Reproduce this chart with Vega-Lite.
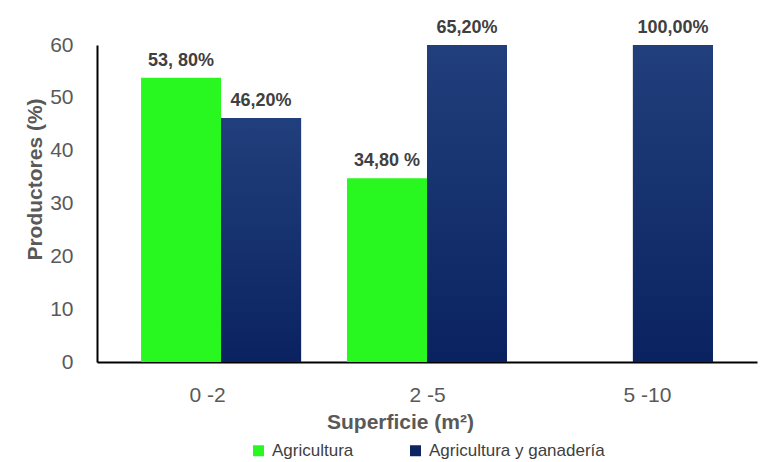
{
  "$schema": "https://vega.github.io/schema/vega-lite/v6.json",
  "autosize": "none",
  "width": 660,
  "height": 317,
  "padding": {"left": 97, "top": 45, "right": 3, "bottom": 100},
  "background": "white",
  "config": {
    "view": {"stroke": null},
    "font": "Liberation Sans"
  },
  "data": {
    "values": [
      {"superficie": "0 -2", "grupo": "Agricultura", "valor": 53.8, "etiqueta": "53, 80%"},
      {"superficie": "0 -2", "grupo": "Agricultura y ganadería", "valor": 46.2, "etiqueta": "46,20%"},
      {"superficie": "2 -5", "grupo": "Agricultura", "valor": 34.8, "etiqueta": "34,80 %"},
      {"superficie": "2 -5", "grupo": "Agricultura y ganadería", "valor": 65.2, "etiqueta": "65,20%"},
      {"superficie": "5 -10", "grupo": "Agricultura y ganadería", "valor": 100, "etiqueta": "100,00%"}
    ]
  },
  "layer": [
    {
      "encoding": {
        "x": {
          "field": "superficie", "type": "nominal", "sort": ["0 -2", "2 -5", "5 -10"],
          "scale": {"paddingInner": 0.223, "paddingOuter": 0.214},
          "axis": null
        },
        "xOffset": {
          "field": "grupo", "type": "nominal",
          "sort": ["Agricultura", "Agricultura y ganadería"],
          "scale": {"domain": ["Agricultura", "Agricultura y ganadería"], "paddingInner": 0, "paddingOuter": 0}
        },
        "y": {
          "field": "valor", "type": "quantitative",
          "scale": {"domain": [0, 60], "clamp": true, "nice": false},
          "axis": {
            "values": [0, 10, 20, 30, 40, 50, 60],
            "title": "Productores (%)",
            "titleFontSize": 21,
            "titleFontWeight": "bold",
            "titleColor": "#595959",
            "titleFont": "Liberation Sans",
            "titlePadding": 4,
            "titleY": 134,
            "labelFontSize": 21,
            "labelColor": "#595959",
            "labelFont": "Liberation Sans",
            "labelPadding": 24,
            "ticks": false,
            "grid": false,
            "domainColor": "#000000",
            "domainWidth": 2
          }
        }
      },
      "layer": [
        {
          "mark": {"type": "bar"},
          "encoding": {
            "color": {
              "field": "grupo", "type": "nominal",
              "scale": {"domain": ["Agricultura", "Agricultura y ganadería"], "range": ["#28f81f", "#0c2562"]},
              "legend": {
                "title": null,
                "orient": "none",
                "direction": "horizontal",
                "legendX": 153,
                "legendY": 397,
                "symbolType": "square",
                "symbolSize": 121,
                "symbolStrokeWidth": 0,
                "labelFontSize": 17,
                "labelColor": "#404040",
                "labelFont": "Liberation Sans",
                "labelOffset": 5,
                "labelLimit": 400,
                "columnPadding": 53
              }
            }
          }
        },
        {
          "transform": [{"filter": "datum.grupo === 'Agricultura y ganadería'"}],
          "mark": {
            "type": "bar",
            "fill": {
              "gradient": "linear",
              "x1": 0, "y1": 0, "x2": 0, "y2": 1,
              "stops": [
                {"offset": 0, "color": "#213f7c"},
                {"offset": 1, "color": "#0a2360"}
              ]
            }
          }
        },
        {
          "mark": {
            "type": "text",
            "baseline": "middle",
            "dy": -17,
            "fontSize": 18,
            "fontWeight": "bold",
            "font": "Liberation Sans",
            "color": "#404040"
          },
          "encoding": {
            "text": {"field": "etiqueta", "type": "nominal"}
          }
        }
      ]
    },
    {
      "mark": {"type": "point", "opacity": 0},
      "encoding": {
        "x": {
          "field": "superficie", "type": "nominal", "sort": ["0 -2", "2 -5", "5 -10"],
          "scale": {"type": "point", "padding": 0.5},
          "axis": {
            "title": "Superficie (m²)",
            "titleFontSize": 21,
            "titleFontWeight": "bold",
            "titleColor": "#595959",
            "titleFont": "Liberation Sans",
            "titlePadding": 6,
            "titleX": 303,
            "labelFontSize": 21,
            "labelColor": "#595959",
            "labelFont": "Liberation Sans",
            "labelPadding": 22,
            "labelAngle": 0,
            "ticks": false,
            "grid": false,
            "domainColor": "#000000",
            "domainWidth": 2
          }
        },
        "y": {"datum": 0, "type": "quantitative"}
      }
    }
  ],
  "resolve": {"scale": {"x": "independent"}}
}
